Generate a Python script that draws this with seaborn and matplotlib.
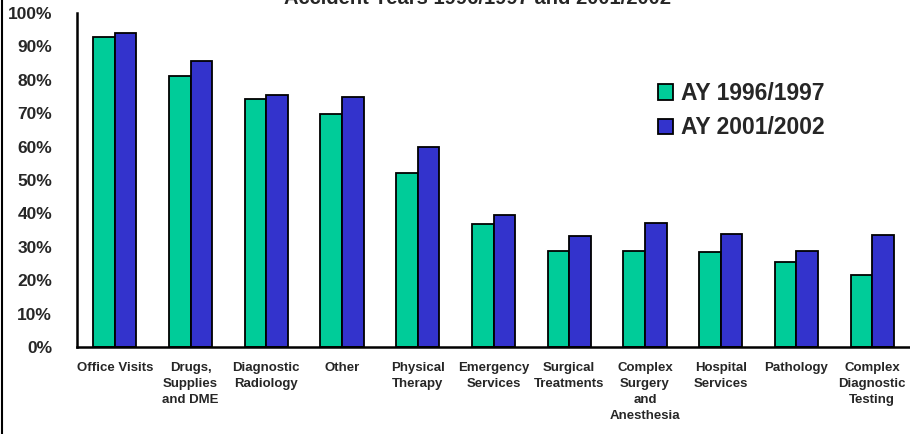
import matplotlib
matplotlib.use("Agg")
import matplotlib.pyplot as plt
import seaborn as sns
import pandas as pd
from matplotlib.lines import Line2D
from matplotlib.ticker import PercentFormatter

categories = ["Office Visits", "Drugs,\nSupplies\nand DME", "Diagnostic\nRadiology", "Other",
              "Physical\nTherapy", "Emergency\nServices", "Surgical\nTreatments",
              "Complex\nSurgery\nand\nAnesthesia", "Hospital\nServices", "Pathology",
              "Complex\nDiagnostic\nTesting"]
ay_1996 = [0.929, 0.812, 0.742, 0.697, 0.522, 0.368, 0.288, 0.288, 0.284, 0.254, 0.215]
ay_2001 = [0.941, 0.857, 0.755, 0.748, 0.599, 0.394, 0.331, 0.372, 0.339, 0.288, 0.335]
series_names = ["AY 1996/1997", "AY 2001/2002"]
colors = ["#00CC99", "#3333CC"]
title = "Accident Years 1996/1997 and 2001/2002"

df = pd.DataFrame({
    "category": categories * 2,
    "value": ay_1996 + ay_2001,
    "series": [series_names[0]] * len(categories) + [series_names[1]] * len(categories),
})

sns.set_style("white")
plt.rcParams['font.family'] = ['Liberation Sans', 'DejaVu Sans']

fig = plt.figure(figsize=(9.1, 4.34), dpi=100)
ax = fig.add_axes([77 / 910, 1 - 347 / 434, 1 - 77 / 910, (347 - 13) / 434])

sns.barplot(data=df, x="category", y="value", hue="series", palette=colors,
            width=0.57, gap=0, edgecolor="black", linewidth=1.3, ax=ax,
            saturation=1, legend=True)

ax.set_ylim(0, 1.0)
ax.set_xlim(-0.5, len(categories) - 0.5)
ax.yaxis.set_major_formatter(PercentFormatter(1.0, decimals=0))
ax.set_yticks([i / 10 for i in range(11)])
ax.set_xlabel("")
ax.set_ylabel("")
for s in ["top", "right"]:
    ax.spines[s].set_visible(False)
for s in ["left", "bottom"]:
    ax.spines[s].set_color("black")
    ax.spines[s].set_linewidth(1.8)
ax.tick_params(axis="y", length=0, pad=18, labelsize=12.5)
ax.tick_params(axis="x", length=0, pad=11, labelsize=9.5)
for lab in ax.get_yticklabels():
    lab.set_fontweight("bold")
for lab in ax.get_xticklabels():
    lab.set_fontweight("bold")
    lab.set_linespacing(1.45)
    lab.set_verticalalignment("top")

leg = ax.legend(loc="upper left", bbox_to_anchor=((658 - 77) / 833, (347 - 82) / 334),
                frameon=False, fontsize=16.5, handlelength=0.65, handleheight=0.65,
                handletextpad=0.35, labelspacing=0.5, borderaxespad=0, borderpad=0)
for t in leg.get_texts():
    t.set_fontweight("bold")

fig.text(478 / 910, 1 - 3.5 / 434, title, ha="center", va="baseline",
         fontsize=14.5, fontweight="bold")

fig.add_artist(Line2D([2 / 910, 2 / 910], [0, 1], transform=fig.transFigure,
                      color="black", linewidth=1.5))

fig.savefig("out.png", dpi=100)
